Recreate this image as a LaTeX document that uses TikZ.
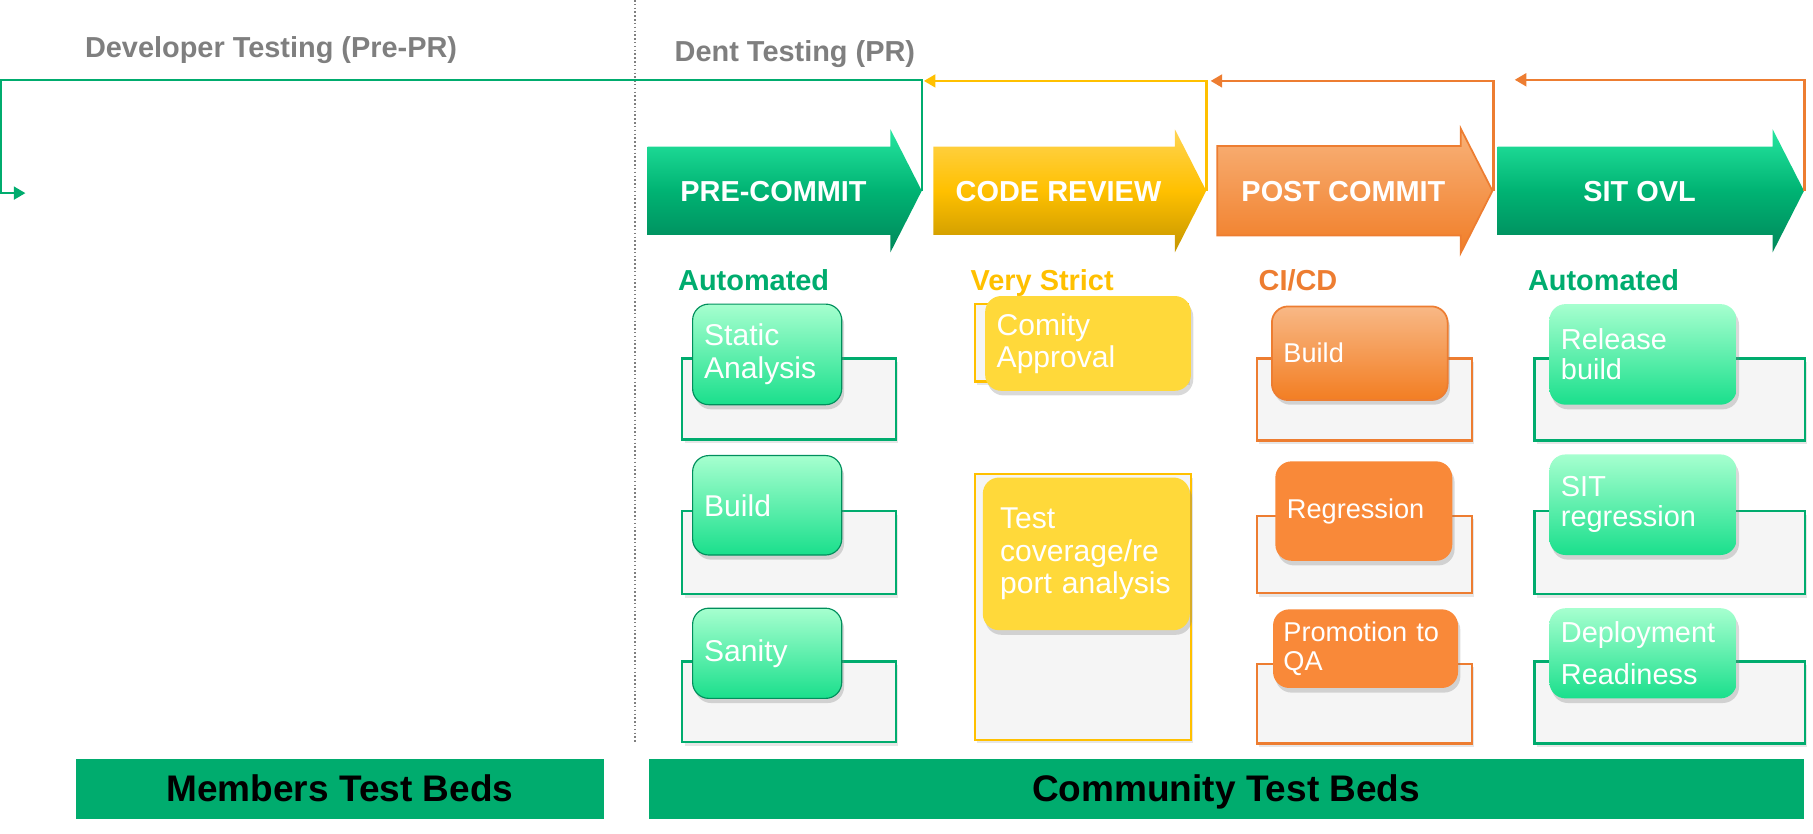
\documentclass[tikz,border=0pt]{standalone}
\usepackage{fontspec}
\setmainfont{Liberation Sans}
\usetikzlibrary{shapes.arrows,arrows.meta,shadows}

\definecolor{dentgreen}{HTML}{00AC6E}
\definecolor{dentyellow}{HTML}{FFC000}
\definecolor{dentorange}{HTML}{ED7D31}
\definecolor{dentgray}{HTML}{7F7F7F}
\definecolor{bggray}{HTML}{F5F5F5}
\definecolor{phgreentop}{HTML}{26E6A0}
\definecolor{phgreenmid}{HTML}{00B373}
\definecolor{phgreenbot}{HTML}{00875A}
\definecolor{phyellowtop}{HTML}{FFD452}
\definecolor{phyellowbot}{HTML}{C49500}
\definecolor{mintop}{HTML}{A6FFCF}
\definecolor{minbot}{HTML}{1ADF8C}
\definecolor{taskyellow}{HTML}{FFD93A}
\definecolor{taskorange}{HTML}{F98939}

\tikzset{
  phase/.style={single arrow, single arrow head extend=15pt, single arrow tip angle=126,
    minimum height=#1, inner xsep=0pt, inner ysep=29pt, text height=18pt, text depth=0pt,
    anchor=tail, text=white, font=\bfseries\fontsize{25}{25}\selectfont},
  head/.style={anchor=base west, font=\bfseries\fontsize{25}{25}\selectfont},
  bgbox/.style={draw=#1, line width=2pt, fill=bggray, inner sep=0pt,
    drop shadow={shadow xshift=2pt, shadow yshift=-3pt, opacity=.2}},
  task/.style n args={3}{rounded corners=14pt, align=left, text width=#1, minimum height=#2,
    inner xsep=#3, inner ysep=0pt, text=white, font=\fontsize{26}{28}\selectfont,
    drop shadow={shadow xshift=2pt, shadow yshift=-4pt, opacity=.3}},
  mint/.style={top color=mintop, bottom color=minbot},
  feedback/.style={line width=2.2pt, -{Triangle[length=10pt,width=11pt]}},
  bed/.style={fill=dentgreen, inner sep=0pt, minimum height=52pt, text height=23pt, text depth=0pt,
    font=\bfseries\fontsize{32}{32}\selectfont}
}

\begin{document}
\begin{tikzpicture}[x=1pt,y=-1pt]
  \useasboundingbox (0,0) rectangle (1568,721);

  % headings and divider
  \node[head, text=dentgray] (devT) at (70,50) {Developer Testing (Pre-PR)};
  \node[head, text=dentgray] (dentT) at (580,53) {Dent Testing (PR)};
  \coordinate (divtop) at (549,0);
  \coordinate (divbot) at (549,643);
  \draw[dentgray, dotted, line width=1.3pt] (divtop) -- (divbot);

  % phases
  \node[phase=237pt, top color=phgreentop, bottom color=phgreenbot, middle color=phgreenmid] (PC) at (560,165) {PRE-COMMIT};
  \node[phase=236pt, top color=phyellowtop, bottom color=phyellowbot, middle color=dentyellow] (CR) at (807,165) {CODE REVIEW};
  \node[phase=238pt, top color=orange!35!dentorange!60!white, bottom color=dentorange!80!orange, draw=dentorange, line width=1.5pt] (PO) at (1052,165) {POST COMMIT};
  \node[phase=265pt, top color=phgreentop, bottom color=phgreenbot, middle color=phgreenmid] (SIT) at (1295,165) {SIT OVL};

  % feedback loops
  \coordinate (corner) at (1,69);
  \coordinate (devin) at (22,167);
  \coordinate (crback) at (799,70);
  \coordinate (poback) at (1047,70);
  \coordinate (sitback) at (1310,69);
  \draw[feedback, color=dentgreen] (PC.tip) |- (corner) |- (devin);
  \draw[feedback, color=dentyellow] (CR.tip) |- (crback);
  \draw[feedback, color=dentorange] (PO.tip) |- (poback);
  \draw[feedback, color=dentorange] (SIT.tip) |- (sitback);

  % column headings
  \node[head, text=dentgreen] (autoA) at (583,251) {Automated};
  \node[head, text=dentyellow] (strict) at (836,251) {Very Strict};
  \node[head, text=dentorange] (cicd) at (1085,251) {CI/CD};
  \node[head, text=dentgreen] (autoB) at (1318,251) {Automated};

  % test bed boxes
  \node[bgbox=dentgreen, minimum width=185pt, minimum height=70pt] (gA1) at (682.5,345) {};
  \node[bgbox=dentgreen, minimum width=185pt, minimum height=72pt] (gA2) at (682.5,478) {};
  \node[bgbox=dentgreen, minimum width=185pt, minimum height=70pt] (gA3) at (682.5,607) {};
  \node[bgbox=dentyellow, minimum width=184pt, minimum height=67pt] (gB1) at (935,296.5) {};
  \node[bgbox=dentyellow, minimum width=187pt, minimum height=230pt] (gB2) at (936.5,525) {};
  \node[bgbox=dentorange, minimum width=186pt, minimum height=71pt] (gC1) at (1180,345.5) {};
  \node[bgbox=dentorange, minimum width=186pt, minimum height=67pt] (gC2) at (1180,479.5) {};
  \node[bgbox=dentorange, minimum width=186pt, minimum height=69pt] (gC3) at (1180,608.5) {};
  \node[bgbox=dentgreen, minimum width=234pt, minimum height=71pt] (gD1) at (1444,345.5) {};
  \node[bgbox=dentgreen, minimum width=234pt, minimum height=72pt] (gD2) at (1444,478) {};
  \node[bgbox=dentgreen, minimum width=234pt, minimum height=71pt] (gD3) at (1444,607.5) {};

  % tasks
  \node[task={109pt}{87pt}{10pt}, mint, draw=phgreenmid!80!black, line width=1pt] (static) at (663.5,306.5) {Static\\Analysis};
  \node[task={109pt}{86pt}{10pt}, mint, draw=phgreenmid!80!black, line width=1pt] (buildA) at (663.5,437) {Build};
  \node[task={109pt}{78pt}{10pt}, mint, draw=phgreenmid!80!black, line width=1pt] (sanity) at (663.5,565) {Sanity};
  \node[task={158pt}{82pt}{10pt}, fill=taskyellow] (comity) at (941,297) {Comity\\Approval};
  \node[task={149pt}{132pt}{15pt}, fill=taskyellow] (cover) at (939.5,479) {Test\\coverage/re\\port analysis};
  \node[task={132pt}{81pt}{10pt}, top color=orange!30!dentorange!55!white, bottom color=dentorange!70!orange, draw=dentorange, line width=1.5pt, font=\fontsize{23.5}{25}\selectfont] (buildB) at (1176,305.5) {Build};
  \node[task={133pt}{86pt}{10pt}, fill=taskorange, font=\fontsize{23.5}{25}\selectfont] (regr) at (1179.5,442) {Regression};
  \node[task={142pt}{68pt}{9pt}, fill=taskorange, font=\fontsize{23.5}{25}\selectfont] (promo) at (1181,561) {Promotion to\\QA};
  \node[task={142pt}{87pt}{10pt}, mint, font=\fontsize{25}{26}\selectfont] (release) at (1421,306.5) {Release\\build};
  \node[task={142pt}{87pt}{10pt}, mint, font=\fontsize{25}{26}\selectfont] (sitreg) at (1421,436.5) {SIT\\regression};
  \node[task={142pt}{78pt}{10pt}, mint, font=\fontsize{25}{26}\selectfont] (deploy) at (1421,565) {Deployment\\[10pt]Readiness};

  % test beds
  \node[bed, minimum width=456pt] (members) at (294,682) {Members Test Beds};
  \node[bed, minimum width=999pt] (community) at (1060.5,682) {Community Test Beds};
\end{tikzpicture}
\end{document}
